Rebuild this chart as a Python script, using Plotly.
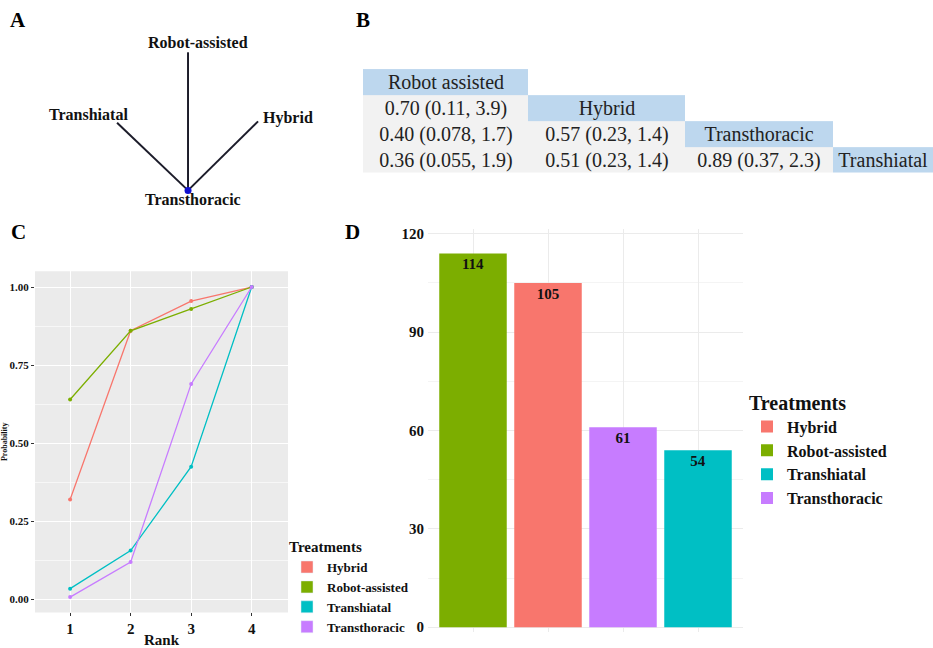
import plotly.graph_objects as go

W, H = 933, 648
SERIF = "Liberation Serif, 'Times New Roman', serif"

# ---------------- data ----------------
treatments = ["Hybrid", "Robot-assisted", "Transhiatal", "Transthoracic"]
colors = ["#F8766D", "#7CAE00", "#00BFC4", "#C77CFF"]

# Panel A: network geometry (layout coordinates of nodes) and edges
net_nodes = ["Robot-assisted", "Transhiatal", "Hybrid", "Transthoracic"]
net_x = [0.0, -0.507, 0.50, 0.0]
net_y = [1.0, 0.49, 0.50, 0.0]
net_edges = [("Transthoracic", "Robot-assisted"),
             ("Transthoracic", "Transhiatal"),
             ("Transthoracic", "Hybrid")]

# Panel B: league table
league_labels = ["Robot assisted", "Hybrid", "Transthoracic", "Transhiatal"]
league_values = [
    ["", "", "", ""],
    ["0.70 (0.11, 3.9)", "", "", ""],
    ["0.40 (0.078, 1.7)", "0.57 (0.23, 1.4)", "", ""],
    ["0.36 (0.055, 1.9)", "0.51 (0.23, 1.4)", "0.89 (0.37, 2.3)", ""],
]

# Panel C: cumulative rank probabilities
ranks = [1, 2, 3, 4]
hybrid_prob = [0.32, 0.86, 0.955, 1.0]
robot_prob = [0.64, 0.86, 0.93, 1.0]
transhiatal_prob = [0.035, 0.157, 0.425, 1.0]
transthoracic_prob = [0.008, 0.12, 0.69, 1.0]
cum_prob = [hybrid_prob, robot_prob, transhiatal_prob, transthoracic_prob]

# Panel D: SUCRA-like scores
bar_order = ["Robot-assisted", "Hybrid", "Transthoracic", "Transhiatal"]
bar_values = [114, 105, 61, 54]
y_ticks_d = [0, 30, 60, 90, 120]


# ---------------- helpers ----------------
def pxx(p):
    return p / W


def pxy(p):
    return 1 - p / H


def bold(size, color="#111"):
    return dict(family=SERIF, size=size, color=color, weight="bold")


fig = go.Figure()

# ---------------- Panel A ----------------
for a, b in net_edges:
    ia, ib = net_nodes.index(a), net_nodes.index(b)
    fig.add_trace(go.Scatter(
        x=[net_x[ia], net_x[ib]], y=[net_y[ia], net_y[ib]],
        mode="lines", line=dict(color="#1c1c2a", width=2),
        xaxis="x3", yaxis="y3", showlegend=False, hoverinfo="skip"))
ic = net_nodes.index("Transthoracic")
fig.add_trace(go.Scatter(
    x=[net_x[ic]], y=[net_y[ic]], mode="markers",
    marker=dict(color="#1010d0", size=7),
    xaxis="x3", yaxis="y3", showlegend=False, hoverinfo="skip"))

label_style = {
    "Robot-assisted": dict(xanchor="center", yanchor="bottom", xshift=10, yshift=-1),
    "Transhiatal": dict(xanchor="center", yanchor="bottom", xshift=-29, yshift=-2),
    "Hybrid": dict(xanchor="left", yanchor="middle", xshift=3, yshift=3),
    "Transthoracic": dict(xanchor="center", yanchor="top", xshift=5, yshift=1),
}
annotations = []
for n, x, y in zip(net_nodes, net_x, net_y):
    annotations.append(dict(x=x, y=y, xref="x3", yref="y3", text=n,
                            showarrow=False, font=bold(16), **label_style[n]))

# ---------------- Panel B ----------------
col_w = [165, 157, 148, 100]
row_h = 26.25
x_edges = [0]
for w in col_w:
    x_edges.append(x_edges[-1] + w)
y_edges = [i * row_h for i in range(len(league_labels) + 1)]
z_tab, t_tab = [], []
for i in range(len(league_labels)):
    zr, tr = [], []
    for j in range(len(league_labels)):
        if i == j:
            zr.append(2)
            tr.append(league_labels[i])
        elif j < i:
            zr.append(1)
            tr.append(league_values[i][j])
        else:
            zr.append(0)
            tr.append("")
    z_tab.append(zr)
    t_tab.append(tr)
fig.add_trace(go.Heatmap(
    z=z_tab, x=x_edges, y=y_edges, text=t_tab, texttemplate="%{text}",
    textfont=dict(family=SERIF, size=20, color="#222"),
    colorscale=[[0, "#ffffff"], [0.5, "#f2f2f2"], [1, "#bdd7ee"]],
    zmin=0, zmax=2, showscale=False, hoverinfo="skip",
    xaxis="x4", yaxis="y4"))

# ---------------- Panel C ----------------
for name, col, vals in zip(treatments, colors, cum_prob):
    fig.add_trace(go.Scatter(
        x=ranks, y=vals, mode="lines+markers", name=name,
        line=dict(color=col, width=1.3), marker=dict(color=col, size=4),
        xaxis="x", yaxis="y", showlegend=False))
for k, (name, col) in enumerate(zip(treatments, colors)):
    fig.add_trace(go.Bar(
        x=[None], y=[None], name=name, marker=dict(color=col),
        xaxis="x", yaxis="y", legend="legend2", legendrank=k + 1))

# ---------------- Panel D ----------------
for name, v in zip(bar_order, bar_values):
    k = treatments.index(name)
    fig.add_trace(go.Bar(
        x=[name], y=[v], name=name, marker=dict(color=colors[k], line=dict(width=0)),
        width=0.9, text=[str(v)], textposition="inside", insidetextanchor="end",
        textangle=0, textfont=bold(15, "#111"), constraintext="none",
        xaxis="x2", yaxis="y2", legend="legend", legendrank=k + 1))

# panel letters
for letter, px_, py_ in [("A", 18, 17), ("B", 363, 17), ("C", 18, 232), ("D", 352, 232)]:
    annotations.append(dict(x=pxx(px_), y=pxy(py_), xref="paper", yref="paper",
                            text=letter, showarrow=False, font=bold(21, "#000"),
                            xanchor="center", yanchor="middle"))

shapes = [dict(type="rect", xref="x domain", yref="y domain", x0=0, x1=1, y0=0, y1=1,
               fillcolor="#ebebeb", line=dict(width=0), layer="below")]

fig.update_layout(
    width=W, height=H, margin=dict(l=0, r=0, t=0, b=0),
    paper_bgcolor="white", plot_bgcolor="white",
    barmode="overlay", font=dict(family=SERIF, color="#111"),
    annotations=annotations, shapes=shapes,
    # Panel C axes
    xaxis=dict(domain=[pxx(35), pxx(288)], range=[0.42, 4.6],
               tickvals=ranks, ticktext=[str(r) for r in ranks],
               tickfont=bold(15), showgrid=True, gridcolor="white", gridwidth=1.1,
               zeroline=False, showline=False, ticks="outside", ticklen=3,
               tickcolor="#333",
               title=dict(text="Rank", font=bold(15), standoff=0)),
    yaxis=dict(domain=[pxy(618), pxy(272)], range=[-0.041, 1.0505],
               tickvals=[0, 0.25, 0.5, 0.75, 1.0], tickformat=".2f",
               tickfont=bold(11), showgrid=True, gridcolor="white", gridwidth=1.1,
               minor=dict(showgrid=True, gridcolor="#f7f7f7", gridwidth=0.6,
                          tick0=0, dtick=0.125),
               zeroline=False, showline=False, ticks="outside", ticklen=3,
               tickcolor="#333",
               title=dict(text="Probability", font=bold(8), standoff=1)),
    # Panel D axes
    xaxis2=dict(domain=[pxx(428), pxx(743)], range=[-0.6, 3.6], type="category",
                categoryorder="array", categoryarray=bar_order,
                showticklabels=False, ticks="", showgrid=True, gridcolor="#ebebeb",
                gridwidth=1, zeroline=False, showline=False, anchor="y2"),
    yaxis2=dict(domain=[pxy(638), pxy(229)], range=[-1.5, 121.5],
                tickvals=y_ticks_d, tickfont=bold(15), ticks="", ticklabelstandoff=3,
                showgrid=True, gridcolor="#ebebeb", gridwidth=1,
                minor=dict(showgrid=True, gridcolor="#f4f4f4", gridwidth=0.6,
                           tick0=0, dtick=15),
                zeroline=False, showline=False, anchor="x2"),
    # Panel A axes (hidden)
    xaxis3=dict(domain=[0, pxx(330)], range=[-1.343, 1.014], visible=False,
                anchor="y3", fixedrange=True),
    yaxis3=dict(domain=[pxy(220), 1], range=[-0.214, 1.357], visible=False,
                anchor="x3", fixedrange=True),
    # Panel B axes (hidden)
    xaxis4=dict(domain=[pxx(363), 1], range=[0, 570], visible=False, anchor="y4"),
    yaxis4=dict(domain=[pxy(172), pxy(67)], range=[y_edges[-1], 0], visible=False,
                anchor="x4"),
    legend=dict(x=pxx(747), xanchor="left", y=pxy(386), yanchor="top",
                title=dict(text="Treatments", font=bold(20)),
                font=bold(16), bgcolor="rgba(0,0,0,0)", traceorder="normal",
                itemclick=False, itemdoubleclick=False),
    legend2=dict(x=pxx(287), xanchor="left", y=pxy(537), yanchor="top",
                 title=dict(text="Treatments", font=bold(15)),
                 font=bold(13), bgcolor="rgba(0,0,0,0)", traceorder="normal",
                 itemclick=False, itemdoubleclick=False),
)

fig.write_html("out.html")
